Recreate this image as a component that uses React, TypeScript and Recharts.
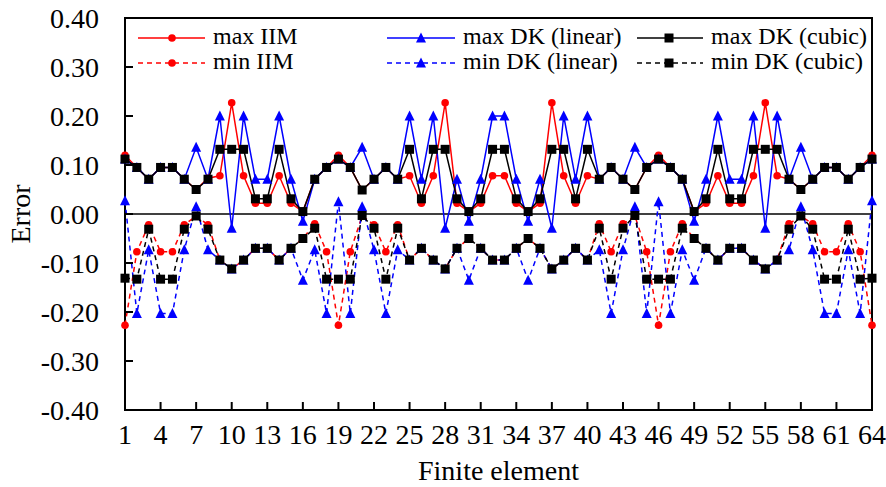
import React from 'react';
import {LineChart, Line, XAxis, YAxis, ReferenceLine, ReferenceArea} from 'recharts';

const FONT = '"Liberation Serif", "Times New Roman", serif';

const elements = [
  1, 2, 3, 4, 5, 6, 7, 8, 9, 10, 11, 12, 13, 14, 15, 16,
  17, 18, 19, 20, 21, 22, 23, 24, 25, 26, 27, 28, 29, 30, 31, 32,
  33, 34, 35, 36, 37, 38, 39, 40, 41, 42, 43, 44, 45, 46, 47, 48,
  49, 50, 51, 52, 53, 54, 55, 56, 57, 58, 59, 60, 61, 62, 63, 64,
];

const maxIIM = [
  0.120, 0.095, 0.071, 0.095, 0.095, 0.071, 0.050, 0.073, 0.078, 0.227, 0.078, 0.022, 0.022, 0.078, 0.022, 0.005,
  0.071, 0.095, 0.120, 0.095, 0.049, 0.071, 0.095, 0.071, 0.078, 0.022, 0.078, 0.227, 0.022, 0.005, 0.022, 0.078,
  0.078, 0.022, 0.005, 0.022, 0.227, 0.078, 0.022, 0.078, 0.071, 0.095, 0.071, 0.050, 0.095, 0.120, 0.095, 0.071,
  0.005, 0.022, 0.078, 0.022, 0.022, 0.078, 0.227, 0.078, 0.071, 0.050, 0.071, 0.095, 0.095, 0.071, 0.095, 0.120,
];

const minIIM = [
  -0.227, -0.077, -0.022, -0.077, -0.077, -0.022, -0.004, -0.022, -0.094, -0.112, -0.094, -0.070, -0.070, -0.094, -0.070, -0.050,
  -0.020, -0.077, -0.227, -0.077, -0.004, -0.022, -0.077, -0.022, -0.094, -0.070, -0.094, -0.112, -0.070, -0.050, -0.070, -0.094,
  -0.094, -0.070, -0.050, -0.070, -0.112, -0.094, -0.070, -0.094, -0.020, -0.077, -0.020, -0.004, -0.077, -0.227, -0.077, -0.020,
  -0.050, -0.070, -0.094, -0.070, -0.070, -0.094, -0.112, -0.094, -0.020, -0.004, -0.020, -0.077, -0.077, -0.020, -0.077, -0.227,
];

const maxLinear = [
  0.112, 0.095, 0.071, 0.095, 0.095, 0.071, 0.136, 0.071, 0.200, -0.029, 0.200, 0.071, 0.071, 0.200, 0.071, -0.015,
  0.071, 0.095, 0.112, 0.095, 0.136, 0.071, 0.095, 0.071, 0.200, 0.071, 0.200, -0.029, 0.071, -0.015, 0.071, 0.200,
  0.200, 0.071, -0.015, 0.071, -0.029, 0.200, 0.071, 0.200, 0.071, 0.095, 0.071, 0.136, 0.095, 0.112, 0.095, 0.071,
  -0.015, 0.071, 0.200, 0.071, 0.071, 0.200, -0.029, 0.200, 0.071, 0.136, 0.071, 0.095, 0.095, 0.071, 0.095, 0.112,
];

const minLinear = [
  0.027, -0.203, -0.073, -0.203, -0.203, -0.073, 0.015, -0.073, -0.094, -0.112, -0.094, -0.070, -0.070, -0.094, -0.070, -0.135,
  -0.073, -0.203, 0.025, -0.203, 0.015, -0.073, -0.203, -0.073, -0.094, -0.070, -0.094, -0.112, -0.070, -0.135, -0.070, -0.094,
  -0.094, -0.070, -0.135, -0.070, -0.112, -0.094, -0.070, -0.094, -0.073, -0.203, -0.073, 0.015, -0.203, 0.025, -0.203, -0.073,
  -0.135, -0.070, -0.094, -0.070, -0.070, -0.094, -0.112, -0.094, -0.073, 0.015, -0.073, -0.203, -0.203, -0.073, -0.203, 0.027,
];

const maxCubic = [
  0.112, 0.095, 0.071, 0.095, 0.095, 0.071, 0.050, 0.071, 0.132, 0.132, 0.132, 0.031, 0.031, 0.132, 0.031, 0.005,
  0.071, 0.095, 0.112, 0.095, 0.049, 0.071, 0.095, 0.071, 0.132, 0.031, 0.132, 0.132, 0.031, 0.005, 0.031, 0.132,
  0.132, 0.031, 0.005, 0.031, 0.132, 0.132, 0.031, 0.132, 0.071, 0.095, 0.071, 0.050, 0.095, 0.112, 0.095, 0.071,
  0.005, 0.031, 0.132, 0.031, 0.031, 0.132, 0.132, 0.132, 0.071, 0.050, 0.071, 0.095, 0.095, 0.071, 0.095, 0.112,
];

const minCubic = [
  -0.131, -0.133, -0.031, -0.133, -0.133, -0.031, -0.004, -0.031, -0.094, -0.112, -0.094, -0.070, -0.070, -0.094, -0.070, -0.050,
  -0.029, -0.133, -0.133, -0.133, -0.003, -0.029, -0.133, -0.029, -0.094, -0.070, -0.094, -0.112, -0.070, -0.050, -0.070, -0.094,
  -0.094, -0.070, -0.050, -0.070, -0.112, -0.094, -0.070, -0.094, -0.029, -0.133, -0.029, -0.003, -0.133, -0.133, -0.133, -0.029,
  -0.050, -0.070, -0.094, -0.070, -0.070, -0.094, -0.112, -0.094, -0.031, -0.004, -0.031, -0.133, -0.133, -0.031, -0.133, -0.131,
];

const xTicks = [1, 4, 7, 10, 13, 16, 19, 22, 25, 28, 31, 34, 37, 40, 43, 46, 49, 52, 55, 58, 61, 64];
const yTicks = [-0.4, -0.3, -0.2, -0.1, 0, 0.1, 0.2, 0.3, 0.4];

const data = elements.map((el, i) => ({
  el,
  maxIIM: maxIIM[i],
  minIIM: minIIM[i],
  maxLinear: maxLinear[i],
  minLinear: minLinear[i],
  maxCubic: maxCubic[i],
  minCubic: minCubic[i],
}));

type Shape = 'circle' | 'triangle' | 'square';

function marker(shape: Shape, color: string, cx: number, cy: number, key?: string) {
  if (shape === 'circle') {
    return <circle key={key} cx={cx} cy={cy} r={3.8} fill={color} stroke="none" />;
  }
  if (shape === 'triangle') {
    return (
      <polygon key={key} points={`${cx},${cy - 5.5} ${cx - 5},${cy + 4.5} ${cx + 5},${cy + 4.5}`} fill={color} />
    );
  }
  return <rect key={key} x={cx - 4.5} y={cy - 4.5} width={9} height={9} fill={color} />;
}

const series = [
  {key: 'maxIIM', name: 'max IIM', color: '#FF0000', shape: 'circle' as Shape, dashed: false},
  {key: 'minIIM', name: 'min IIM', color: '#FF0000', shape: 'circle' as Shape, dashed: true},
  {key: 'maxLinear', name: 'max DK (linear)', color: '#0000FF', shape: 'triangle' as Shape, dashed: false},
  {key: 'minLinear', name: 'min DK (linear)', color: '#0000FF', shape: 'triangle' as Shape, dashed: true},
  {key: 'maxCubic', name: 'max DK (cubic)', color: '#000000', shape: 'square' as Shape, dashed: false},
  {key: 'minCubic', name: 'min DK (cubic)', color: '#000000', shape: 'square' as Shape, dashed: true},
];

const YTick = (props: any) => {
  const {x, y, payload} = props;
  return (
    <g>
      <line x1={x} x2={x + 8} y1={y} y2={y} stroke="#000" strokeWidth={2} />
      <text x={x - 26} y={y} textAnchor="end" dominantBaseline="central"
            style={{fontFamily: FONT, fontSize: 28}} fill="#000">
        {Number(payload.value).toFixed(2)}
      </text>
    </g>
  );
};

const XTick = (props: any) => {
  const {x, y, payload} = props;
  return (
    <g>
      <line x1={x} x2={x} y1={y} y2={y - 8} stroke="#000" strokeWidth={2} />
      <text x={x} y={y + 34} textAnchor="middle" style={{fontFamily: FONT, fontSize: 28}} fill="#000">
        {payload.value}
      </text>
    </g>
  );
};

// legend slots: [line start, line end, marker x, text x] per column, rows at y
const legendCols = [
  [138, 205, 172, 213],
  [387, 455, 421, 463],
  [637, 703, 669, 711],
];
const legendRows = [38, 63];

function LegendOverlay() {
  const order = [
    [series[0], series[2], series[4]],
    [series[1], series[3], series[5]],
  ];
  return (
    <svg width={886} height={487} style={{position: 'absolute', left: 0, top: 0, pointerEvents: 'none'}}>
      {order.map((row, r) =>
        row.map((s, c) => {
          const [x1, x2, mx, tx] = legendCols[c];
          const y = legendRows[r];
          return (
            <g key={s.key}>
              <line x1={x1} x2={x2} y1={y} y2={y} stroke={s.color} strokeWidth={1.5}
                    strokeDasharray={s.dashed ? '5 4' : undefined} />
              {marker(s.shape, s.color, mx, y)}
              <text x={tx} y={y + 6} style={{fontFamily: FONT, fontSize: 24}} fill="#000">{s.name}</text>
            </g>
          );
        })
      )}
    </svg>
  );
}

export default function App() {
  return (
    <div style={{position: 'absolute', left: 0, top: 0, width: 886, height: 487, background: '#fff'}}>
      <LineChart width={886} height={487} data={data} margin={{top: 18, right: 14, left: 0, bottom: 0}}>
        <XAxis
          dataKey="el"
          type="number"
          domain={[1, 64]}
          ticks={xTicks}
          interval={0}
          height={77}
          tickSize={0}
          tickMargin={0}
          axisLine={false}
          tickLine={false}
          tick={<XTick />}
          label={(p: any) => {
            const vb = p.viewBox || {x: 125, width: 747};
            const cx = vb.x + vb.width / 2;
            return (
              <text x={cx} y={480} textAnchor="middle" style={{fontFamily: FONT, fontSize: 28}} fill="#000">
                Finite element
              </text>
            );
          }}
        />
        <YAxis
          type="number"
          domain={[-0.4, 0.4]}
          ticks={yTicks}
          interval={0}
          width={125}
          tickSize={0}
          tickMargin={0}
          axisLine={false}
          tickLine={false}
          tick={<YTick />}
          label={(p: any) => {
            const vb = p.viewBox || {x: 0, y: 18, height: 392};
            const cy = vb.y + vb.height / 2;
            return (
              <text x={30} y={cy} transform={`rotate(-90, 30, ${cy})`} textAnchor="middle"
                    style={{fontFamily: FONT, fontSize: 28}} fill="#000">Error</text>
            );
          }}
        />
        <ReferenceLine y={0} stroke="#000" strokeWidth={1.5} />
        {series.map((s) => (
          <Line
            key={s.key}
            type="linear"
            dataKey={s.key}
            stroke={s.color}
            strokeWidth={1.5}
            strokeDasharray={s.dashed ? '5 4' : undefined}
            isAnimationActive={false}
            activeDot={false}
            dot={(p: any) => marker(s.shape, s.color, p.cx, p.cy, `${s.key}-${p.index}`)}
          />
        ))}
        <ReferenceArea x1={1} x2={64} y1={-0.4} y2={0.4} fill="none" fillOpacity={0} stroke="#000" strokeWidth={2} />
      </LineChart>
      <LegendOverlay />
    </div>
  );
}
